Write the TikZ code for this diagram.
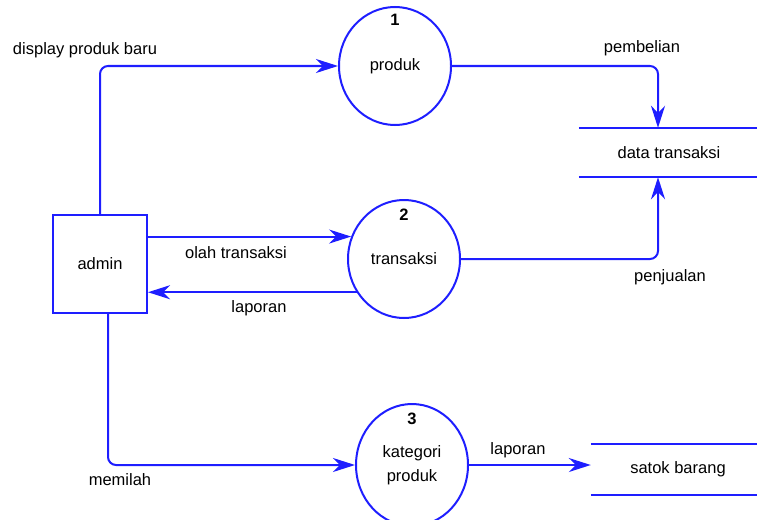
\documentclass[tikz,border=0pt]{standalone}
\usepackage{fontspec}
\setmainfont{Liberation Sans}
\usetikzlibrary{shapes.geometric,arrows.meta}
\definecolor{dfd}{RGB}{30,30,255}
\begin{document}
\begin{tikzpicture}[x=1pt,y=-1pt,
  flow/.style={draw=dfd, line width=2pt, -{Stealth[length=22pt,width=14pt,inset=7pt]}, rounded corners=8pt},
  proc/.style={draw=dfd, line width=2pt, ellipse, inner sep=0pt, minimum width=112pt, minimum height=118pt},
  ent/.style={draw=dfd, line width=2pt, rectangle, minimum width=94pt, minimum height=98pt, inner sep=0pt},
  store/.style={rectangle, inner sep=0pt},
  storeline/.style={draw=dfd, line width=2pt},
  lbl/.style={font=\fontsize{16.5}{24}\selectfont, text=black, inner sep=0pt},
  num/.style={font=\fontsize{16.5}{24}\selectfont\bfseries, text=black, inner sep=0pt},
]
\useasboundingbox (0,0) rectangle (757,519);

% entities and processes
\node[ent, lbl] (admin) at (100,264) {admin};
\node[proc, lbl] (c1) at (395,66) {produk};
\node[num] (n1) at (395,20) {1};
\node[proc, lbl] (c2) at (404,259) {transaksi};
\node[num] (n2) at (404,215) {2};
\node[proc, lbl, minimum height=122pt, align=center] (c3) at (412,465) {kategori\\produk};
\node[num] (n3) at (412,419) {3};

% data stores
\node[store, lbl, minimum width=180pt, minimum height=49pt] (ds1) at (669,152.5) {data transaksi};
\draw[storeline] (ds1.north west) -- (ds1.north east);
\draw[storeline] (ds1.south west) -- (ds1.south east);
\node[store, lbl, minimum width=174pt, minimum height=51pt] (ds2) at (678,469.5) {satok barang};
\draw[storeline] (ds2.north west) -- (ds2.north east);
\draw[storeline] (ds2.south west) -- (ds2.south east);

% flows
\draw[flow] (admin.north) |- (c1.west);
\draw[flow] (c1.east) -| ([xshift=-11pt]ds1.north);
\draw[flow] (c2.east) -| ([xshift=-11pt]ds1.south);
\draw[flow] (c2.157 -| admin.east) -- (c2.157);
\draw[flow] (c2.215) -- (c2.215 -| admin.east);
\draw[flow] ([xshift=8pt]admin.south) |- (c3.west);
\draw[flow] (c3.east) -- (c3.east -| ds2.west);

% flow labels
\node[lbl] (l1) at (85,50) {display produk baru};
\node[lbl] (l2) at (642,48) {pembelian};
\node[lbl] (l3) at (670,277) {penjualan};
\node[lbl] (l4) at (236,253) {olah transaksi};
\node[lbl] (l5) at (259,308) {laporan};
\node[lbl] (l6) at (120,480) {memilah};
\node[lbl] (l7) at (518,450) {laporan};
\end{tikzpicture}
\end{document}
